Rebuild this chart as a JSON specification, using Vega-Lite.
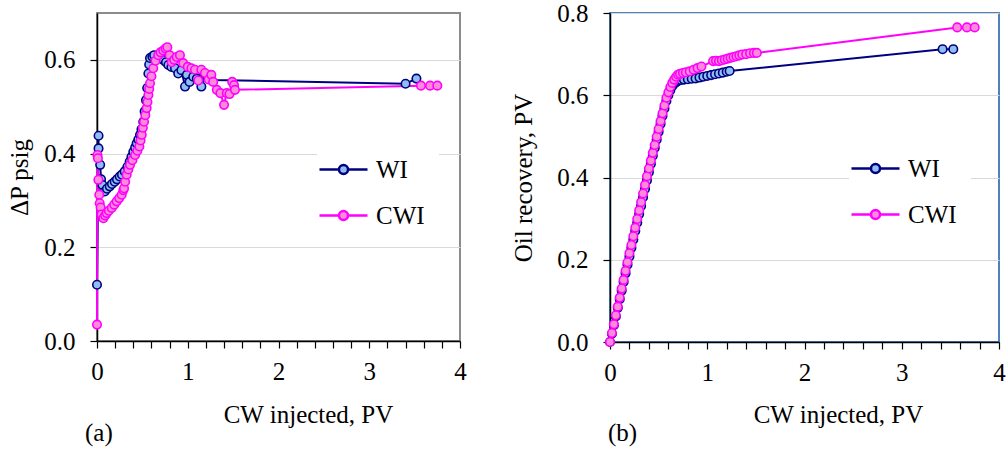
{
  "$schema": "https://vega.github.io/schema/vega-lite/v6.json",
  "background": "white",
  "padding": {"left": 6, "top": 0, "right": 5, "bottom": 0},
  "bounds": "flush",
  "spacing": 150,
  "config": {
    "font": "Liberation Serif",
    "axis": {"labelFont": "Liberation Serif", "titleFont": "Liberation Serif", "labelFontSize": 25, "titleFontSize": 25, "labelColor": "black", "titleColor": "black", "titleFontWeight": "normal", "domainColor": "black", "domainWidth": 1.5, "tickColor": "black", "tickWidth": 1.2, "tickSize": 7, "labelPadding": 14, "gridColor": "#d9d9d9", "gridWidth": 1, "labelFlush": false, "labelOverlap": false},
    "legend": {"labelFont": "Liberation Serif", "labelFontSize": 25, "labelColor": "black"},
    "title": {"font": "Liberation Serif", "fontSize": 25, "fontWeight": "normal", "color": "black"}
  },
  "resolve": {"scale": {"stroke": "independent", "fill": "independent", "x": "independent", "y": "independent"}, "legend": {"stroke": "independent", "fill": "independent"}},
  "datasets": {
    "left": [
      {"x":0,"y":0.12,"s":"WI"},{"x":0.017,"y":0.438,"s":"WI"},{"x":0.017,"y":0.411,"s":"WI"},{"x":0.035,"y":0.376,"s":"WI"},{"x":0.045,"y":0.345,"s":"WI"},{"x":0.06,"y":0.333,"s":"WI"},{"x":0.085,"y":0.319,"s":"WI"},{"x":0.11,"y":0.325,"s":"WI"},{"x":0.14,"y":0.33,"s":"WI"},{"x":0.165,"y":0.335,"s":"WI"},{"x":0.195,"y":0.34,"s":"WI"},{"x":0.22,"y":0.345,"s":"WI"},{"x":0.25,"y":0.351,"s":"WI"},{"x":0.275,"y":0.355,"s":"WI"},{"x":0.305,"y":0.362,"s":"WI"},{"x":0.335,"y":0.372,"s":"WI"},{"x":0.36,"y":0.383,"s":"WI"},{"x":0.38,"y":0.393,"s":"WI"},{"x":0.4,"y":0.404,"s":"WI"},{"x":0.42,"y":0.413,"s":"WI"},{"x":0.437,"y":0.422,"s":"WI"},{"x":0.455,"y":0.43,"s":"WI"},{"x":0.474,"y":0.44,"s":"WI"},{"x":0.49,"y":0.452,"s":"WI"},{"x":0.51,"y":0.468,"s":"WI"},{"x":0.525,"y":0.49,"s":"WI"},{"x":0.54,"y":0.514,"s":"WI"},{"x":0.553,"y":0.54,"s":"WI"},{"x":0.566,"y":0.571,"s":"WI"},{"x":0.575,"y":0.59,"s":"WI"},{"x":0.584,"y":0.604,"s":"WI"},{"x":0.61,"y":0.607,"s":"WI"},{"x":0.63,"y":0.61,"s":"WI"},{"x":0.68,"y":0.605,"s":"WI"},{"x":0.73,"y":0.6,"s":"WI"},{"x":0.76,"y":0.595,"s":"WI"},{"x":0.786,"y":0.589,"s":"WI"},{"x":0.82,"y":0.585,"s":"WI"},{"x":0.86,"y":0.582,"s":"WI"},{"x":0.895,"y":0.571,"s":"WI"},{"x":0.93,"y":0.578,"s":"WI"},{"x":0.97,"y":0.543,"s":"WI"},{"x":0.99,"y":0.568,"s":"WI"},{"x":1.02,"y":0.553,"s":"WI"},{"x":1.06,"y":0.564,"s":"WI"},{"x":1.1,"y":0.56,"s":"WI"},{"x":1.15,"y":0.543,"s":"WI"},{"x":1.19,"y":0.568,"s":"WI"},{"x":1.22,"y":0.565,"s":"WI"},{"x":1.26,"y":0.557,"s":"WI"},{"x":3.4,"y":0.549,"s":"WI"},{"x":3.52,"y":0.56,"s":"WI"},
      {"x":0,"y":0.035,"s":"CWI"},{"x":0.005,"y":0.397,"s":"CWI"},{"x":0.01,"y":0.39,"s":"CWI"},{"x":0.015,"y":0.344,"s":"CWI"},{"x":0.025,"y":0.312,"s":"CWI"},{"x":0.03,"y":0.294,"s":"CWI"},{"x":0.04,"y":0.285,"s":"CWI"},{"x":0.05,"y":0.27,"s":"CWI"},{"x":0.07,"y":0.262,"s":"CWI"},{"x":0.09,"y":0.268,"s":"CWI"},{"x":0.107,"y":0.273,"s":"CWI"},{"x":0.13,"y":0.278,"s":"CWI"},{"x":0.162,"y":0.284,"s":"CWI"},{"x":0.19,"y":0.291,"s":"CWI"},{"x":0.217,"y":0.298,"s":"CWI"},{"x":0.245,"y":0.305,"s":"CWI"},{"x":0.272,"y":0.312,"s":"CWI"},{"x":0.29,"y":0.322,"s":"CWI"},{"x":0.298,"y":0.326,"s":"CWI"},{"x":0.31,"y":0.34,"s":"CWI"},{"x":0.327,"y":0.355,"s":"CWI"},{"x":0.345,"y":0.366,"s":"CWI"},{"x":0.364,"y":0.376,"s":"CWI"},{"x":0.39,"y":0.386,"s":"CWI"},{"x":0.42,"y":0.397,"s":"CWI"},{"x":0.445,"y":0.406,"s":"CWI"},{"x":0.467,"y":0.415,"s":"CWI"},{"x":0.48,"y":0.428,"s":"CWI"},{"x":0.493,"y":0.44,"s":"CWI"},{"x":0.505,"y":0.455,"s":"CWI"},{"x":0.518,"y":0.468,"s":"CWI"},{"x":0.532,"y":0.482,"s":"CWI"},{"x":0.547,"y":0.497,"s":"CWI"},{"x":0.556,"y":0.51,"s":"CWI"},{"x":0.566,"y":0.525,"s":"CWI"},{"x":0.575,"y":0.538,"s":"CWI"},{"x":0.584,"y":0.55,"s":"CWI"},{"x":0.6,"y":0.565,"s":"CWI"},{"x":0.62,"y":0.582,"s":"CWI"},{"x":0.645,"y":0.598,"s":"CWI"},{"x":0.675,"y":0.61,"s":"CWI"},{"x":0.7,"y":0.616,"s":"CWI"},{"x":0.73,"y":0.62,"s":"CWI"},{"x":0.755,"y":0.624,"s":"CWI"},{"x":0.775,"y":0.627,"s":"CWI"},{"x":0.8,"y":0.61,"s":"CWI"},{"x":0.823,"y":0.595,"s":"CWI"},{"x":0.85,"y":0.6,"s":"CWI"},{"x":0.878,"y":0.606,"s":"CWI"},{"x":0.914,"y":0.61,"s":"CWI"},{"x":0.95,"y":0.593,"s":"CWI"},{"x":1.0,"y":0.585,"s":"CWI"},{"x":1.04,"y":0.582,"s":"CWI"},{"x":1.08,"y":0.579,"s":"CWI"},{"x":1.116,"y":0.556,"s":"CWI"},{"x":1.15,"y":0.579,"s":"CWI"},{"x":1.19,"y":0.572,"s":"CWI"},{"x":1.23,"y":0.558,"s":"CWI"},{"x":1.26,"y":0.568,"s":"CWI"},{"x":1.28,"y":0.553,"s":"CWI"},{"x":1.32,"y":0.536,"s":"CWI"},{"x":1.36,"y":0.529,"s":"CWI"},{"x":1.4,"y":0.504,"s":"CWI"},{"x":1.43,"y":0.529,"s":"CWI"},{"x":1.46,"y":0.527,"s":"CWI"},{"x":1.49,"y":0.553,"s":"CWI"},{"x":1.51,"y":0.546,"s":"CWI"},{"x":1.52,"y":0.536,"s":"CWI"},{"x":3.57,"y":0.545,"s":"CWI"},{"x":3.67,"y":0.545,"s":"CWI"},{"x":3.75,"y":0.545,"s":"CWI"}
    ],
    "right": [
      {"x":0,"y":0,"s":"WI"},{"x":0.02,"y":0.02,"s":"WI"},{"x":0.04,"y":0.041,"s":"WI"},{"x":0.06,"y":0.062,"s":"WI"},{"x":0.08,"y":0.083,"s":"WI"},{"x":0.1,"y":0.104,"s":"WI"},{"x":0.12,"y":0.125,"s":"WI"},{"x":0.14,"y":0.146,"s":"WI"},{"x":0.16,"y":0.167,"s":"WI"},{"x":0.18,"y":0.188,"s":"WI"},{"x":0.2,"y":0.208,"s":"WI"},{"x":0.22,"y":0.229,"s":"WI"},{"x":0.24,"y":0.249,"s":"WI"},{"x":0.26,"y":0.27,"s":"WI"},{"x":0.28,"y":0.29,"s":"WI"},{"x":0.3,"y":0.311,"s":"WI"},{"x":0.32,"y":0.331,"s":"WI"},{"x":0.34,"y":0.352,"s":"WI"},{"x":0.36,"y":0.372,"s":"WI"},{"x":0.38,"y":0.393,"s":"WI"},{"x":0.4,"y":0.413,"s":"WI"},{"x":0.42,"y":0.433,"s":"WI"},{"x":0.44,"y":0.453,"s":"WI"},{"x":0.46,"y":0.472,"s":"WI"},{"x":0.48,"y":0.492,"s":"WI"},{"x":0.5,"y":0.511,"s":"WI"},{"x":0.52,"y":0.53,"s":"WI"},{"x":0.54,"y":0.55,"s":"WI"},{"x":0.56,"y":0.568,"s":"WI"},{"x":0.58,"y":0.586,"s":"WI"},{"x":0.6,"y":0.6,"s":"WI"},{"x":0.62,"y":0.612,"s":"WI"},{"x":0.64,"y":0.622,"s":"WI"},{"x":0.66,"y":0.628,"s":"WI"},{"x":0.68,"y":0.632,"s":"WI"},{"x":0.7,"y":0.635,"s":"WI"},{"x":0.73,"y":0.637,"s":"WI"},{"x":0.76,"y":0.638,"s":"WI"},{"x":0.8,"y":0.639,"s":"WI"},{"x":0.84,"y":0.64,"s":"WI"},{"x":0.88,"y":0.641,"s":"WI"},{"x":0.92,"y":0.643,"s":"WI"},{"x":0.96,"y":0.645,"s":"WI"},{"x":1.0,"y":0.647,"s":"WI"},{"x":1.04,"y":0.649,"s":"WI"},{"x":1.08,"y":0.651,"s":"WI"},{"x":1.12,"y":0.653,"s":"WI"},{"x":1.16,"y":0.655,"s":"WI"},{"x":1.2,"y":0.657,"s":"WI"},{"x":1.23,"y":0.659,"s":"WI"},{"x":3.42,"y":0.712,"s":"WI"},{"x":3.53,"y":0.712,"s":"WI"},
      {"x":0,"y":0,"s":"CWI"},{"x":0.02,"y":0.022,"s":"CWI"},{"x":0.04,"y":0.043,"s":"CWI"},{"x":0.06,"y":0.065,"s":"CWI"},{"x":0.08,"y":0.086,"s":"CWI"},{"x":0.1,"y":0.108,"s":"CWI"},{"x":0.12,"y":0.13,"s":"CWI"},{"x":0.14,"y":0.151,"s":"CWI"},{"x":0.16,"y":0.173,"s":"CWI"},{"x":0.18,"y":0.194,"s":"CWI"},{"x":0.2,"y":0.216,"s":"CWI"},{"x":0.22,"y":0.236,"s":"CWI"},{"x":0.24,"y":0.257,"s":"CWI"},{"x":0.26,"y":0.278,"s":"CWI"},{"x":0.28,"y":0.299,"s":"CWI"},{"x":0.3,"y":0.32,"s":"CWI"},{"x":0.32,"y":0.34,"s":"CWI"},{"x":0.34,"y":0.361,"s":"CWI"},{"x":0.36,"y":0.382,"s":"CWI"},{"x":0.38,"y":0.403,"s":"CWI"},{"x":0.4,"y":0.422,"s":"CWI"},{"x":0.42,"y":0.441,"s":"CWI"},{"x":0.44,"y":0.46,"s":"CWI"},{"x":0.46,"y":0.479,"s":"CWI"},{"x":0.48,"y":0.499,"s":"CWI"},{"x":0.5,"y":0.518,"s":"CWI"},{"x":0.52,"y":0.537,"s":"CWI"},{"x":0.54,"y":0.556,"s":"CWI"},{"x":0.56,"y":0.575,"s":"CWI"},{"x":0.58,"y":0.594,"s":"CWI"},{"x":0.6,"y":0.607,"s":"CWI"},{"x":0.62,"y":0.62,"s":"CWI"},{"x":0.64,"y":0.63,"s":"CWI"},{"x":0.66,"y":0.638,"s":"CWI"},{"x":0.68,"y":0.645,"s":"CWI"},{"x":0.7,"y":0.65,"s":"CWI"},{"x":0.72,"y":0.652,"s":"CWI"},{"x":0.75,"y":0.654,"s":"CWI"},{"x":0.78,"y":0.656,"s":"CWI"},{"x":0.82,"y":0.658,"s":"CWI"},{"x":0.86,"y":0.662,"s":"CWI"},{"x":0.9,"y":0.666,"s":"CWI"},{"x":0.94,"y":0.67,"s":"CWI"},{"x":1.06,"y":0.683,"s":"CWI"},{"x":1.09,"y":0.684,"s":"CWI"},{"x":1.12,"y":0.683,"s":"CWI"},{"x":1.15,"y":0.685,"s":"CWI"},{"x":1.18,"y":0.687,"s":"CWI"},{"x":1.21,"y":0.689,"s":"CWI"},{"x":1.24,"y":0.691,"s":"CWI"},{"x":1.27,"y":0.693,"s":"CWI"},{"x":1.3,"y":0.695,"s":"CWI"},{"x":1.33,"y":0.697,"s":"CWI"},{"x":1.36,"y":0.699,"s":"CWI"},{"x":1.4,"y":0.7,"s":"CWI"},{"x":1.44,"y":0.702,"s":"CWI"},{"x":1.48,"y":0.703,"s":"CWI"},{"x":1.51,"y":0.703,"s":"CWI"},{"x":3.57,"y":0.765,"s":"CWI"},{"x":3.67,"y":0.765,"s":"CWI"},{"x":3.75,"y":0.765,"s":"CWI"}
    ]
  },
  "hconcat": [
    {
      "width": 363, "height": 328,
      "view": {"stroke": "#8c8c8c", "strokeWidth": 2},
      "title": {"text": "(a)", "orient": "bottom", "anchor": "start", "frame": "group", "dx": -12, "offset": -6},
      "data": {"name": "left"},
      "encoding": {
        "x": {"field": "x", "type": "quantitative", "scale": {"domain": [0, 4], "nice": false, "zero": false},
              "axis": {"title": "CW injected, PV", "values": [0,0.2,0.4,0.6,0.8,1,1.2,1.4,1.6,1.8,2,2.2,2.4,2.6,2.8,3,3.2,3.4,3.6,3.8,4], "labelExpr": "datum.value % 1 == 0 ? format(datum.value, 'd') : ''", "grid": false, "labelPadding": 11, "titleX": 211, "titleY": 81, "titleBaseline": "alphabetic", "titleAlign": "center"}},
        "y": {"field": "y", "type": "quantitative", "scale": {"domain": [0, 0.7], "nice": false},
              "axis": {"title": "ΔP psig", "values": [0, 0.2, 0.4, 0.6], "format": ".1f", "grid": true, "titlePadding": 11, "labelPadding": 15}}
      },
      "layer": [
        {"mark": {"type": "line", "strokeWidth": 2},
         "encoding": {"stroke": {"field": "s", "type": "nominal", "scale": {"domain": ["WI", "CWI"], "range": ["#000080", "#ff00ff"]},
                                 "legend": {"title": null, "orient": "none", "legendX": 220, "legendY": 130, "symbolType": "M-2.5,0H-0.47M0.47,0H2.5M-0.47,0A0.47,0.47,0,1,1,0.47,0A0.47,0.47,0,1,1,-0.47,0Z", "symbolSize": 369, "symbolStrokeWidth": 2.5, "labelOffset": 20, "rowPadding": 20, "padding": 14, "fillColor": "white"}},
                      "order": {"value": null}}},
        {"mark": {"type": "point", "filled": true, "size": 72, "strokeWidth": 1.6, "opacity": 1},
         "encoding": {"stroke": {"field": "s", "type": "nominal", "scale": {"domain": ["WI", "CWI"], "range": ["#000080", "#ff00ff"]},
                                 "legend": {"title": null, "orient": "none", "legendX": 220, "legendY": 130, "symbolType": "M-2.5,0H-0.47M0.47,0H2.5M-0.47,0A0.47,0.47,0,1,1,0.47,0A0.47,0.47,0,1,1,-0.47,0Z", "symbolSize": 369, "symbolStrokeWidth": 2.5, "labelOffset": 20, "rowPadding": 20, "padding": 14, "fillColor": "white"}},
                      "fill": {"field": "s", "type": "nominal", "scale": {"domain": ["WI", "CWI"], "range": ["#8fbff0", "#ff8ad8"]},
                                 "legend": {"title": null, "orient": "none", "legendX": 220, "legendY": 130, "symbolType": "M-2.5,0H-0.47M0.47,0H2.5M-0.47,0A0.47,0.47,0,1,1,0.47,0A0.47,0.47,0,1,1,-0.47,0Z", "symbolSize": 369, "symbolStrokeWidth": 2.5, "labelOffset": 20, "rowPadding": 20, "padding": 14, "fillColor": "white"}}}}
      ]
    },
    {
      "width": 389, "height": 329,
      "view": {"stroke": "#4f81bd", "strokeWidth": 2},
      "title": {"text": "(b)", "orient": "bottom", "anchor": "start", "frame": "group", "dx": -2, "offset": -6},
      "data": {"name": "right"},
      "encoding": {
        "x": {"field": "x", "type": "quantitative", "scale": {"domain": [0, 4], "nice": false, "zero": false},
              "axis": {"title": "CW injected, PV", "values": [0,0.2,0.4,0.6,0.8,1,1.2,1.4,1.6,1.8,2,2.2,2.4,2.6,2.8,3,3.2,3.4,3.6,3.8,4], "labelExpr": "datum.value % 1 == 0 ? format(datum.value, 'd') : ''", "grid": false, "labelPadding": 11, "titleX": 228, "titleY": 80, "titleBaseline": "alphabetic", "titleAlign": "center"}},
        "y": {"field": "y", "type": "quantitative", "scale": {"domain": [0, 0.8], "nice": false},
              "axis": {"title": "Oil recovery, PV", "values": [0, 0.2, 0.4, 0.6, 0.8], "format": ".1f", "grid": true, "titlePadding": 20, "labelPadding": 15}}
      },
      "layer": [
        {"mark": {"type": "line", "strokeWidth": 2},
         "encoding": {"stroke": {"field": "s", "type": "nominal", "scale": {"domain": ["WI", "CWI"], "range": ["#000080", "#ff00ff"]},
                                 "legend": {"title": null, "orient": "none", "legendX": 239, "legendY": 129, "symbolType": "M-2.5,0H-0.47M0.47,0H2.5M-0.47,0A0.47,0.47,0,1,1,0.47,0A0.47,0.47,0,1,1,-0.47,0Z", "symbolSize": 369, "symbolStrokeWidth": 2.5, "labelOffset": 20, "rowPadding": 20, "padding": 14, "fillColor": "white"}},
                      "order": {"value": null}}},
        {"mark": {"type": "point", "filled": true, "size": 72, "strokeWidth": 1.6, "opacity": 1},
         "encoding": {"stroke": {"field": "s", "type": "nominal", "scale": {"domain": ["WI", "CWI"], "range": ["#000080", "#ff00ff"]},
                                 "legend": {"title": null, "orient": "none", "legendX": 239, "legendY": 129, "symbolType": "M-2.5,0H-0.47M0.47,0H2.5M-0.47,0A0.47,0.47,0,1,1,0.47,0A0.47,0.47,0,1,1,-0.47,0Z", "symbolSize": 369, "symbolStrokeWidth": 2.5, "labelOffset": 20, "rowPadding": 20, "padding": 14, "fillColor": "white"}},
                      "fill": {"field": "s", "type": "nominal", "scale": {"domain": ["WI", "CWI"], "range": ["#8fbff0", "#ff8ad8"]},
                                 "legend": {"title": null, "orient": "none", "legendX": 239, "legendY": 129, "symbolType": "M-2.5,0H-0.47M0.47,0H2.5M-0.47,0A0.47,0.47,0,1,1,0.47,0A0.47,0.47,0,1,1,-0.47,0Z", "symbolSize": 369, "symbolStrokeWidth": 2.5, "labelOffset": 20, "rowPadding": 20, "padding": 14, "fillColor": "white"}}}}
      ]
    }
  ]
}
